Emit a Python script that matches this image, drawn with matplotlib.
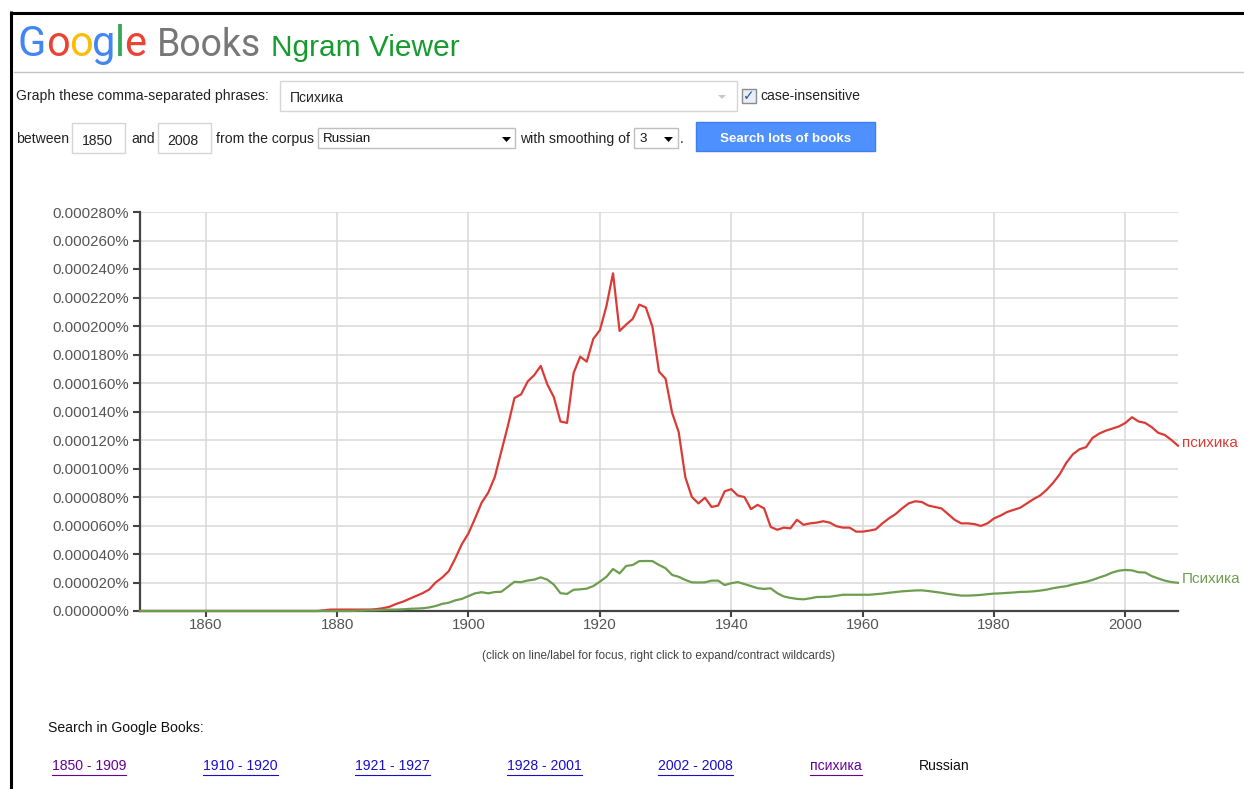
import numpy as np
import matplotlib.pyplot as plt
from matplotlib.patches import Rectangle, Polygon
from matplotlib.ticker import FuncFormatter

plt.rcParams['font.family'] = ['Liberation Sans', 'DejaVu Sans']

# годы корпуса
years = np.arange(1850, 2009)

# частоты в миллионных долях процента (1e-6 %), по десятилетиям
red_vals = (
    [0] * 10 +
    [0] * 10 +
    [0, 0, 0, 0, 0, 0, 0, 0, 0.5, 1] +
    [1, 1, 1, 1, 1, 1, 1.3, 2, 3, 5] +
    [6.5, 8.5, 10.5, 12.5, 15, 20, 23.5, 28, 37, 47] +
    [54.5, 65, 76, 83, 94, 112, 130, 149.5, 152, 161] +
    [165.5, 172, 159, 150, 133, 132, 167, 178.5, 175, 191] +
    [197, 214, 237, 196.5, 201, 205, 215, 213, 199.5, 168] +
    [163, 139, 125.5, 94, 80, 75.5, 79.5, 73, 74, 84] +
    [85.5, 81, 80, 71.5, 74.5, 72, 59, 57, 58.5, 58] +
    [64, 60.5, 61.5, 62, 63, 62, 59.5, 58.5, 58.5, 55.7] +
    [55.7, 56.4, 57.3, 61.5, 65, 68, 72, 75.5, 77, 76.5] +
    [74, 73, 72, 68, 64, 61.5, 61.5, 61, 59.7, 61.5] +
    [65, 67, 69.5, 71, 72.5, 75.5, 78.5, 81, 85, 90] +
    [96, 104, 110, 113.5, 115, 121.5, 124.5, 126.5, 128, 129.5] +
    [132, 136, 133, 132, 129, 125, 123.5, 120, 116]
)
green_vals = (
    [0] * 10 +
    [0] * 10 +
    [0] * 10 +
    [0, 0, 0, 0.2, 0.3, 0.5, 0.6, 0.8, 1, 1] +
    [1.2, 1.5, 1.7, 1.9, 2.5, 3.5, 5, 5.8, 7.5, 8.5] +
    [10.5, 12.4, 13.2, 12.4, 13.3, 13.5, 17, 20.5, 20.2, 21.4] +
    [22, 23.6, 22, 18.5, 12.5, 12, 14.9, 15.2, 15.7, 17.5] +
    [20.6, 24, 29.5, 26.4, 31.6, 32.3, 35, 35.1, 35, 32.3] +
    [30, 25.3, 24, 21.8, 20.1, 20, 20.1, 21.3, 21.3, 18.2] +
    [19.5, 20.3, 18.9, 17.5, 16, 15.5, 15.9, 12.5, 10.2, 9.2] +
    [8.5, 8.2, 8.9, 9.8, 9.9, 10, 10.7, 11.4, 11.4, 11.4] +
    [11.4, 11.4, 11.8, 12.2, 12.8, 13.3, 13.8, 14.1, 14.4, 14.5] +
    [14, 13.4, 12.8, 12, 11.4, 10.8, 10.8, 11, 11.3, 11.8] +
    [12.2, 12.4, 12.7, 13, 13.4, 13.5, 13.8, 14.3, 15, 16] +
    [16.8, 17.4, 18.6, 19.6, 20.5, 21.8, 23.5, 25, 27, 28.3] +
    [28.8, 28.5, 27.2, 27, 24.5, 22.8, 21.3, 20.3, 19.8]
)
red = np.array(red_vals) * 1e-6
green = np.array(green_vals) * 1e-6

series_names = ['психика', 'Психика']
yticks = np.arange(0, 0.000281, 0.00002)
xticks = list(range(1860, 2001, 20))
links = ['1850 - 1909', '1910 - 1920', '1921 - 1927', '1928 - 2001', '2002 - 2008', 'психика', 'Russian']

red_c = '#db3b36'
green_c = '#6d9e4f'

fig = plt.figure(figsize=(12.44, 7.89), dpi=100)

# слой интерфейса в пикселях
ui = fig.add_axes([0, 0, 1, 1])
ui.set_xlim(0, 1244)
ui.set_ylim(789, 0)
ui.axis('off')

# рамка скриншота
ui.plot([9.5, 1244], [12.5, 12.5], color='black', lw=2.2, solid_capstyle='butt')
ui.plot([10.8, 10.8], [11, 789], color='black', lw=2.2, solid_capstyle='butt')

# логотип
fig.canvas.draw()
rend = fig.canvas.get_renderer()
x = 18
for ch, c in zip('Google', ['#4285f4', '#ea4335', '#fbbc05', '#4285f4', '#34a853', '#ea4335']):
    t = ui.text(x, 56, ch, color=c, fontsize=30, family=['Roboto', 'DejaVu Sans'], va='baseline')
    bb = t.get_window_extent(rend)
    x += bb.width - 0.5
ui.text(157, 56, 'Books', color='#777777', fontsize=27, family=['Roboto', 'DejaVu Sans'], va='baseline')
ui.text(271, 56, 'Ngram Viewer', color='#169b2e', fontsize=21.5, va='baseline')
ui.plot([14, 1244], [72, 72], color='#c4c4c4', lw=1)

# строка запроса
fs = 10.1
ui.text(16, 96, 'Graph these comma-separated phrases:', fontsize=fs, va='center', color='#222222')
ui.add_patch(Rectangle((280, 81), 457, 30, fc='white', ec='#d6d6d6', lw=1))
ui.text(290, 97.5, 'Психика', fontsize=fs, va='center', color='#222222')
ui.add_patch(Polygon([[718, 95], [726, 95], [722, 99]], closed=True, fc='#c8c8c8', ec='none'))
ui.add_patch(Rectangle((742, 89), 14, 14, fc='#e8eef8', ec='#8c8c8c', lw=1))
ui.text(749, 96.5, '✓', fontsize=10, ha='center', va='center', color='#2a4f9a',
        family=['DejaVu Sans'])
ui.text(760, 96, 'case-insensitive', fontsize=fs, va='center', color='#222222')

# вторая строка
ui.text(16, 139, 'between', fontsize=fs, va='center', color='#222222')
ui.add_patch(Rectangle((72, 123), 53, 30, fc='white', ec='#d6d6d6', lw=1))
ui.text(82, 140.5, '1850', fontsize=fs, va='center', color='#222222')
ui.text(131, 139, 'and', fontsize=fs, va='center', color='#222222')
ui.add_patch(Rectangle((158, 123), 53, 30, fc='white', ec='#d6d6d6', lw=1))
ui.text(167, 140.5, '2008', fontsize=fs, va='center', color='#222222')
ui.text(216, 139, 'from the corpus', fontsize=fs, va='center', color='#222222')
ui.add_patch(Rectangle((318, 128), 197, 20, fc='white', ec='#bfbfbf', lw=1))
ui.text(323, 139, 'Russian', fontsize=9.6, va='center', color='#111111')
ui.add_patch(Polygon([[502, 137], [511, 137], [506.5, 142]], closed=True, fc='black', ec='none'))
ui.text(520, 139, 'with smoothing of', fontsize=fs, va='center', color='#222222')
ui.add_patch(Rectangle((634, 128), 44, 20, fc='white', ec='#bfbfbf', lw=1))
ui.text(639, 139, '3', fontsize=9.6, va='center', color='#111111')
ui.add_patch(Polygon([[664, 137], [673, 137], [668.5, 142]], closed=True, fc='black', ec='none'))
ui.text(680, 139, '.', fontsize=fs, va='center', color='#222222')
ui.add_patch(Rectangle((696, 122), 179, 29, fc='#4d90fe', ec='#3b7ff0', lw=1))
ui.text(785.5, 138.5, 'Search lots of books', fontsize=9.6, ha='center', va='center',
        color='white', fontweight='bold')

# подсказка и ссылки
ui.text(659, 656, '(click on line/label for focus, right click to expand/contract wildcards)',
        fontsize=8.5, ha='center', va='center', color='#444444')
ui.text(48, 728, 'Search in Google Books:', fontsize=fs, va='center', color='#111111')
link_x = [52, 203, 355, 507, 658, 810, 919]
link_c = ['#660099', '#1a0dcc', '#1a0dcc', '#1a0dcc', '#1a0dcc', '#660099', '#111111']
for lx, lab, lc in zip(link_x, links, link_c):
    t = ui.text(lx, 766, lab, fontsize=fs, va='center', color=lc)
    if lc != '#111111':
        w = t.get_window_extent(rend).width
        ui.plot([lx, lx + w], [774.5, 774.5], color=lc, lw=0.8)

# график
ax = fig.add_axes([140 / 1244, 1 - 611 / 789, 1038 / 1244, 399 / 789])
ax.set_facecolor('none')
ax.plot(years, red, color=red_c, lw=1.6, zorder=4, clip_on=False)
ax.plot(years, green, color=green_c, lw=1.6, zorder=4, clip_on=False)
ax.set_xlim(1850, 2008)
ax.set_ylim(0, 0.00028)
ax.set_yticks(yticks)
ax.yaxis.set_major_formatter(FuncFormatter(lambda v, p: f"{v:.6f}%"))
ax.set_xticks(xticks)
ax.grid(True, color='#d8d8d8', lw=1.1)
ax.set_axisbelow(True)
for s in ['top', 'right']:
    ax.spines[s].set_visible(False)
for s in ['left', 'bottom']:
    ax.spines[s].set_color('#444444')
    ax.spines[s].set_linewidth(1.6)
ax.tick_params(axis='y', length=5, width=1.5, color='#444444', labelcolor='#555555',
               labelsize=10.8, pad=3)
ax.tick_params(axis='x', length=4, width=1.5, color='#444444', labelcolor='#555555',
               labelsize=10.8, pad=1)

ax.annotate(series_names[0], xy=(years[-1], red[-1]), xytext=(3, 2), textcoords='offset points',
            color=red_c, fontsize=11, va='center', annotation_clip=False)
ax.annotate(series_names[1], xy=(years[-1], green[-1]), xytext=(3, 3), textcoords='offset points',
            color=green_c, fontsize=11, va='center', annotation_clip=False)

fig.savefig('out.png', dpi=100)
